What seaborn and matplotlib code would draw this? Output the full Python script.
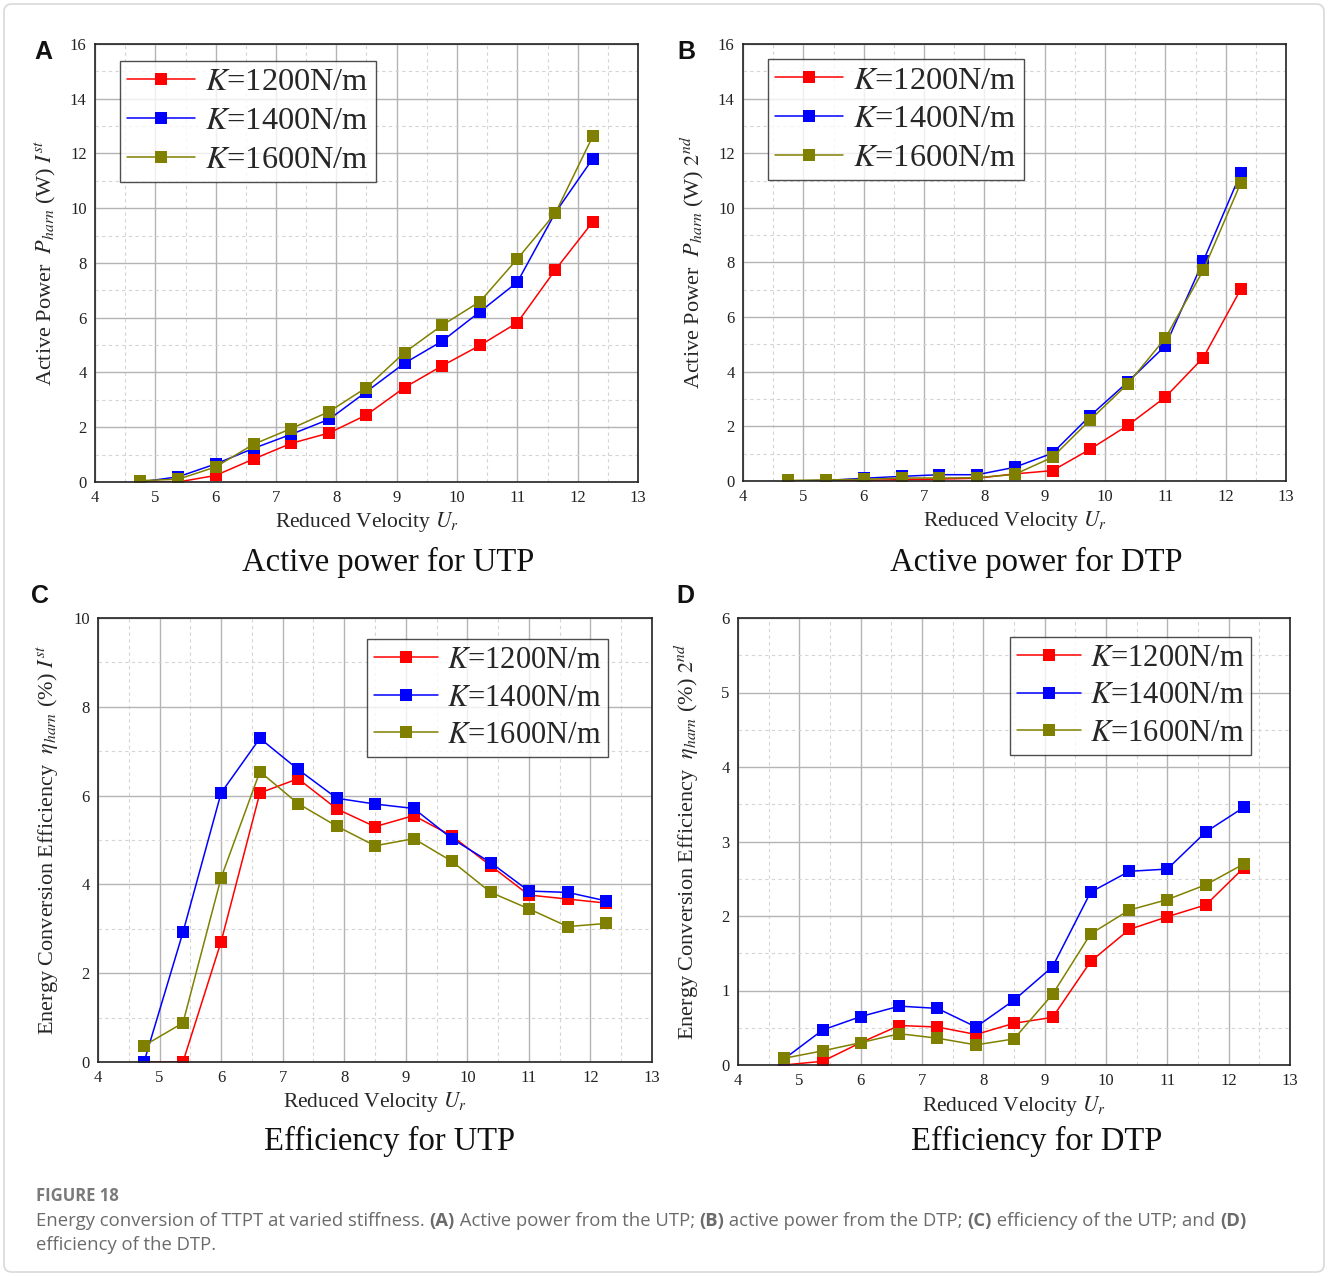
import numpy as np
import pandas as pd
import matplotlib
matplotlib.use("Agg")
import matplotlib.pyplot as plt
from matplotlib.patches import FancyBboxPatch
from matplotlib.ticker import MultipleLocator
import seaborn as sns

# ---------------- data ----------------
ur = [4.75, 5.38, 6.0, 6.63, 7.25, 7.88, 8.5, 9.13, 9.75, 10.38, 11.0, 11.63, 12.25]
stiffness = ["$K$=1200N/m", "$K$=1400N/m", "$K$=1600N/m"]

power_utp_1200 = [0.0, 0.0, 0.24, 0.84, 1.41, 1.79, 2.45, 3.45, 4.24, 4.99, 5.82, 7.75, 9.50]
power_utp_1400 = [0.0, 0.19, 0.66, 1.23, 1.74, 2.29, 3.30, 4.34, 5.14, 6.22, 7.30, 9.84, 11.81]
power_utp_1600 = [0.05, 0.10, 0.55, 1.38, 1.95, 2.57, 3.45, 4.73, 5.72, 6.59, 8.15, 9.82, 12.63]

power_dtp_1200 = [0.0, 0.0, 0.02, 0.05, 0.07, 0.10, 0.26, 0.38, 1.16, 2.04, 3.07, 4.52, 7.02]
power_dtp_1400 = [0.0, 0.02, 0.10, 0.17, 0.23, 0.23, 0.50, 1.02, 2.38, 3.63, 4.95, 8.06, 11.27]
power_dtp_1600 = [0.02, 0.04, 0.06, 0.11, 0.11, 0.12, 0.24, 0.87, 2.23, 3.56, 5.23, 7.72, 10.91]

eff_utp_1200 = [0.0, 0.0, 2.71, 6.06, 6.38, 5.70, 5.30, 5.55, 5.09, 4.42, 3.76, 3.67, 3.58]
eff_utp_1400 = [0.01, 2.92, 6.06, 7.29, 6.59, 5.94, 5.81, 5.71, 5.03, 4.49, 3.85, 3.82, 3.63]
eff_utp_1600 = [0.37, 0.88, 4.15, 6.54, 5.82, 5.31, 4.87, 5.03, 4.52, 3.82, 3.45, 3.05, 3.12]

eff_dtp_1200 = [0.0, 0.05, 0.30, 0.53, 0.51, 0.41, 0.56, 0.64, 1.39, 1.82, 1.99, 2.15, 2.65]
eff_dtp_1400 = [0.08, 0.47, 0.65, 0.79, 0.76, 0.51, 0.87, 1.32, 2.32, 2.60, 2.63, 3.13, 3.46]
eff_dtp_1600 = [0.09, 0.19, 0.30, 0.42, 0.36, 0.27, 0.35, 0.95, 1.76, 2.08, 2.22, 2.42, 2.70]

panel_titles = ["Active power for UTP", "Active power for DTP", "Efficiency for UTP", "Efficiency for DTP"]
panel_letters = ["A", "B", "C", "D"]
ylabels = [
    r"Active Power  $P_{harn}$ (W) $I^{st}$",
    r"Active Power  $P_{harn}$ (W) $2^{nd}$",
    r"Energy Conversion Efficiency  $\eta_{harn}$ (%) $I^{st}$",
    r"Energy Conversion Efficiency  $\eta_{harn}$ (%) $2^{nd}$",
]
xlabel = r"Reduced Velocity $U_r$"

# ---------------- style ----------------
sns.set_style("white")
plt.rcParams["font.family"] = ["Liberation Serif", "DejaVu Serif"]
plt.rcParams["mathtext.fontset"] = "stix"

W, H = 1328, 1276
fig = plt.figure(figsize=(W / 100, H / 100), dpi=100)

# outer rounded border
fig.patches.append(FancyBboxPatch((4 / W, 4 / H), 1 - 8 / W, 1 - 8 / H,
                                  boxstyle="round,pad=0,rounding_size=0.006",
                                  transform=fig.transFigure, fc="white",
                                  ec="#d9d9d9", lw=1.2, zorder=-10))

palette = {stiffness[0]: "#ff0000", stiffness[1]: "#0000ff", stiffness[2]: "#808000"}


def make_df(a, b, c):
    rows = []
    for name, vals in zip(stiffness, (a, b, c)):
        for x, y in zip(ur, vals):
            rows.append({"Ur": x, "val": y, "K": name})
    return pd.DataFrame(rows)


panels = [
    dict(df=make_df(power_utp_1200, power_utp_1400, power_utp_1600),
         box=(95, 44, 638, 482), ylim=(0, 16), ymaj=2, ymin=1,
         leg=(0.046, 0.962), legfs=23.3, title_xy=(388, 562), letter_xy=(43, 52)),
    dict(df=make_df(power_dtp_1200, power_dtp_1400, power_dtp_1600),
         box=(743, 44, 1286, 481), ylim=(0, 16), ymaj=2, ymin=1,
         leg=(0.046, 0.966), legfs=23.3, title_xy=(1036, 562), letter_xy=(686, 52)),
    dict(df=make_df(eff_utp_1200, eff_utp_1400, eff_utp_1600),
         box=(98, 618, 652, 1062), ylim=(0, 10), ymaj=2, ymin=1,
         leg=(0.486, 0.952), legfs=22, title_xy=(389, 1141), letter_xy=(40, 596)),
    dict(df=make_df(eff_dtp_1200, eff_dtp_1400, eff_dtp_1600),
         box=(738, 618, 1290, 1065), ylim=(0, 6), ymaj=1, ymin=0.5,
         leg=(0.493, 0.957), legfs=22, title_xy=(1037, 1141), letter_xy=(685, 596)),
]

for i, p in enumerate(panels):
    l, t, r, b = p["box"]
    ax = fig.add_axes([l / W, 1 - b / H, (r - l) / W, (b - t) / H])
    sns.lineplot(data=p["df"], x="Ur", y="val", hue="K", style="K",
                 markers=["s", "s", "s"], dashes=False, palette=palette,
                 linewidth=1.1, markersize=8.5, markeredgewidth=0, ax=ax)
    ax.set_xlim(4, 13)
    ax.set_ylim(*p["ylim"])
    ax.xaxis.set_major_locator(MultipleLocator(1))
    ax.xaxis.set_minor_locator(MultipleLocator(0.5))
    ax.yaxis.set_major_locator(MultipleLocator(p["ymaj"]))
    ax.yaxis.set_minor_locator(MultipleLocator(p["ymin"]))
    ax.grid(which="major", color="#b4b4b4", lw=1.0, ls="-")
    ax.grid(which="minor", color="#d4d4d4", lw=0.8, ls=(0, (3, 3)))
    ax.set_axisbelow(True)
    for s in ax.spines.values():
        s.set_color("#222222")
        s.set_linewidth(1.2)
    ax.tick_params(which="both", direction="in", top=False, right=False,
                   labelsize=12, colors="#222222", pad=6)
    ax.tick_params(which="major", length=5, width=1)
    ax.tick_params(which="minor", length=3, width=0.8)
    ax.set_xlabel(xlabel, fontsize=15.5, labelpad=3)
    ax.set_ylabel(ylabels[i], fontsize=16)
    ax.yaxis.set_label_coords(-37 / (r - l), 0.5)
    leg = ax.legend(loc="upper left", bbox_to_anchor=p["leg"], fontsize=p["legfs"],
                    frameon=True, fancybox=False, edgecolor="#222222",
                    handlelength=2.1, handletextpad=0.3, borderpad=0.22,
                    labelspacing=0.28, borderaxespad=0)
    leg.get_frame().set_linewidth(1.0)
    for h in leg.get_lines():
        h.set_markersize(8.5)
    fig.text(p["title_xy"][0] / W, 1 - p["title_xy"][1] / H, panel_titles[i],
             ha="center", va="center", fontsize=23.5, color="#111111")
    fig.text(p["letter_xy"][0] / W, 1 - p["letter_xy"][1] / H, panel_letters[i],
             ha="center", va="center", fontsize=18, fontweight="bold",
             family="Liberation Sans", color="#111111")

# ---------------- caption ----------------
cap_color = "#6b6b6b"
fig.text(36 / W, 1 - 1196 / H, "FIGURE 18", ha="left", va="center",
         fontsize=12, fontweight="bold", family="Open Sans", color="#7a7a7a")

renderer = fig.canvas.get_renderer()
pieces = [
    ("Energy conversion of TTPT at varied stiffness. ", "normal"),
    ("(A)", "bold"), (" Active power from the UTP; ", "normal"),
    ("(B)", "bold"), (" active power from the DTP; ", "normal"),
    ("(C)", "bold"), (" efficiency of the UTP; and ", "normal"),
    ("(D)", "bold"),
]
xpix = 36
for txt, wt in pieces:
    tt = fig.text(xpix / W, 1 - 1221 / H, txt, ha="left", va="center",
                  fontsize=13.3, fontweight=wt, family="Open Sans", color=cap_color)
    bb = tt.get_window_extent(renderer=renderer)
    xpix += bb.width
fig.text(36 / W, 1 - 1245 / H, "efficiency of the DTP.", ha="left", va="center",
         fontsize=13.3, family="Open Sans", color=cap_color)

fig.savefig("out.png", dpi=100, facecolor="white")
